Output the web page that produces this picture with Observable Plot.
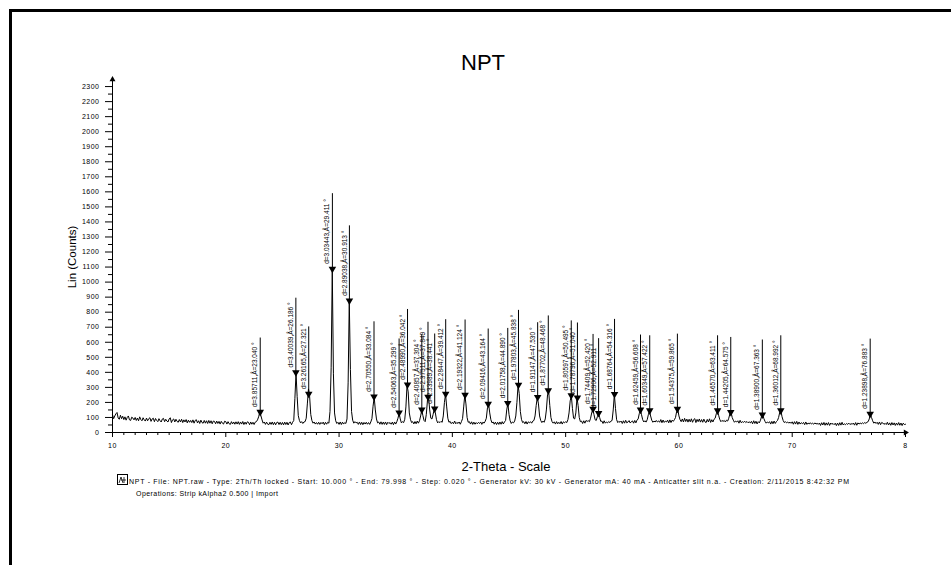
<!DOCTYPE html>
<html><head><meta charset="utf-8">
<script src="https://cdn.jsdelivr.net/npm/d3@7"></script>
<script src="https://cdn.jsdelivr.net/npm/@observablehq/plot@0.6"></script>
<style>
body{margin:0;background:#fff;}
#wrap{position:relative;width:951px;height:565px;overflow:hidden;font-family:"Liberation Sans",Arial,sans-serif;background:#fff;}
#frame{position:absolute;left:9px;top:9px;width:1000px;height:600px;border-top:3px solid #000;border-left:3px solid #000;}
#title{position:absolute;left:0;width:966px;top:50px;text-align:center;font-size:22px;line-height:26px;color:#000;}
#ylab{position:absolute;left:72px;top:257px;transform:translate(-50%,-50%) rotate(-90deg);font-size:11.5px;white-space:nowrap;color:#000;}
#xlab{position:absolute;left:506px;top:466px;transform:translate(-50%,-50%);font-size:13px;white-space:nowrap;color:#000;}
#chart{position:absolute;left:0;top:0;}
#foot{position:absolute;left:0;top:0;pointer-events:none;}
g[aria-label="y-axis tick label"] text, g[aria-label="x-axis tick label"] text{letter-spacing:0.5px;}
</style></head>
<body>
<div id="wrap">
  <div id="frame"></div>
  <div id="chart"></div>
  <div id="title">NPT</div>
  <div id="ylab">Lin (Counts)</div>
  <div id="xlab">2-Theta - Scale</div>
  <svg id="foot" width="951" height="565" font-family="Liberation Sans, Arial, sans-serif">
    <rect x="117.5" y="474.5" width="10" height="10" fill="none" stroke="#000" stroke-width="1"/>
    <path d="M119 483 L121 477 L123 483 M121 480 L126 480 M124 477 L124 483" stroke="#000" stroke-width="0.8" fill="none"/>
    <text id="f1" x="129" y="483.5" font-size="7" textLength="720" lengthAdjust="spacing"></text>
    <text id="f2" x="136" y="496" font-size="7" textLength="142" lengthAdjust="spacing"></text>
  </svg>
</div>
<script>
// ---- scan (2-Theta 10..80, counts read every 0.1 deg) ----
const scanStart = 10;
const scanStep = 0.1;
const counts = [
118,92,110,124,133,96,88,115,92,108,
86,104,82,100,110,84,80,102,96,84,
100,80,96,78,104,86,78,98,84,76,
96,78,92,98,74,90,95,72,93,80,
72,92,78,70,90,94,72,88,76,70,
90,98,66,84,90,70,88,74,68,86,
70,88,66,84,70,86,64,82,68,80,
66,84,62,80,85,64,78,60,82,66,
62,80,62,78,60,80,62,78,58,76,
74,58,76,60,74,56,74,62,56,75,
72,56,72,58,54,72,57,70,55,71,
56,72,54,70,56,73,53,69,55,71,
68,52,70,55,68,53,69,72,84,104,
135,112,84,62,70,54,69,55,52,68,
54,70,52,68,51,67,69,53,68,52,
67,51,69,53,68,50,66,70,52,68,
80,225,395,240,112,80,64,72,60,70,
72,95,190,290,240,120,80,62,70,56,
66,55,68,54,67,58,69,52,68,55,
68,62,140,430,1085,390,130,78,60,68,
54,70,53,69,56,66,60,90,330,875,
420,140,82,62,72,64,68,54,70,53,
68,52,67,56,68,55,66,54,70,92,
175,235,150,90,64,70,55,71,54,69,
54,70,52,68,60,66,55,69,52,70,
56,72,95,128,90,64,72,66,88,170,
315,270,130,88,66,72,57,73,58,76,
62,78,110,148,112,80,72,120,210,235,
150,95,90,120,155,130,85,64,72,66,
74,68,110,200,255,170,95,68,74,59,
68,58,76,58,67,60,70,55,72,92,
170,250,190,100,68,72,56,71,54,69,
55,66,58,67,60,70,54,69,62,75,
95,165,190,130,85,64,70,55,69,53,
68,54,70,55,72,57,70,80,150,195,
120,78,60,70,64,76,110,200,315,260,
140,88,66,72,58,73,56,71,64,72,
62,76,80,110,180,235,190,110,80,66,
76,68,90,150,250,275,180,100,72,62,
71,56,72,58,68,58,73,56,71,64,
72,66,85,130,210,245,160,95,90,130,
230,180,100,72,76,60,78,62,80,74,
78,72,95,130,155,120,85,80,105,128,
100,74,76,60,78,62,70,64,73,66,
76,80,150,253,160,85,66,74,68,76,
60,78,62,81,64,70,79,63,72,77,
62,80,64,82,90,125,150,118,85,70,
78,69,85,118,145,110,82,68,76,70,
80,70,77,68,86,65,83,67,76,70,
82,64,84,66,82,74,85,100,140,155,
110,85,72,90,70,94,73,89,69,88,
71,91,68,86,92,66,87,72,90,69,
86,68,89,71,66,87,70,91,67,85,
70,88,95,125,145,115,88,72,80,74,
80,70,82,76,95,125,135,100,82,68,
76,70,78,62,81,65,72,67,75,66,
73,65,71,64,74,58,78,60,75,57,
72,64,82,108,118,92,74,62,70,64,
72,56,74,58,76,60,72,80,100,135,
145,105,80,66,72,64,70,62,69,61,
71,55,72,56,74,54,70,56,65,59,
67,52,70,54,63,57,65,56,62,55,
64,56,61,54,63,47,65,50,67,48,
64,49,66,47,63,55,60,52,62,46,
63,47,65,49,68,50,58,52,60,54,
62,53,59,55,63,49,66,48,64,56,
63,57,65,59,66,61,68,72,90,122,
100,78,62,70,60,68,54,70,52,67,
63,54,61,53,68,50,64,48,66,50,
64,47,63,49,66,48,63,46,62,53,
55
];

// ---- peak markers ----
const peakTheta = [23.040,26.186,27.321,29.411,30.913,33.084,35.299,36.042,37.304,37.849,38.441,39.412,41.124,43.164,44.890,45.838,47.530,48.468,50.495,51.040,52.420,52.911,54.316,56.608,57.422,59.865,63.411,64.575,67.363,68.992,76.883];
const peakD = ["3.85711","3.40039","3.26165","3.03443","2.89038","2.70550","2.54063","2.48990","2.40857","2.37511","2.33989","2.28447","2.19322","2.09416","2.01758","1.97803","1.91147","1.87702","1.80597","1.78796","1.74409","1.72906","1.68764","1.62459","1.60349","1.54375","1.46570","1.44205","1.38900","1.36012","1.23898"];
const peakMarker = [136,399,256,1088,876,238,132,318,152,236,158,256,250,190,195,316,235,279,246,231,157,128,255,151,146,157,146,135,118,146,124];
const peakTop = [628,893,702,1588,1374,736,622,818,650,733,655,750,748,688,692,812,730,775,742,728,652,624,752,648,643,654,643,632,615,643,621];

// ---- axes ----
const yMajor = d3.range(0, 2301, 100);
const yMinor = d3.range(50, 2301, 100);
const xMajor = [10,20,30,40,50,60,70,80];
const xMinor = d3.range(11, 80, 1).filter(v => v % 10 !== 0);
const xTickText = {10:"10",20:"20",30:"30",40:"40",50:"50",60:"60",70:"70",80:"8"};

const footer1 = "NPT - File: NPT.raw - Type: 2Th/Th locked - Start: 10.000 ° - End: 79.998 ° - Step: 0.020 ° - Generator kV: 30 kV - Generator mA: 40 mA - Anticatter slit n.a. - Creation: 2/11/2015 8:42:32 PM";
const footer2 = "Operations: Strip kAlpha2 0.500 | Import";

const scan = counts.map((c, i) => ({t: +(scanStart + i * scanStep).toFixed(2), c}));
const peaks = peakTheta.map((t, i) => ({theta: t, d: peakD[i], marker: peakMarker[i], top: peakTop[i]}));

const plot = Plot.plot({
  width: 951, height: 565,
  marginLeft: 112, marginRight: 46, marginTop: 79, marginBottom: 133,
  x: {domain: [10, 80]},
  y: {domain: [0, 2347]},
  style: {fontFamily: "Liberation Sans, Arial, sans-serif", background: "transparent", color: "#000", overflow: "visible"},
  marks: [
    Plot.axisY(yMajor, {tickSize: 7, tickPadding: 6, fontSize: 7, label: null, tickFormat: d => String(d)}),
    Plot.axisY(yMinor, {tickSize: 4, fill: "none", label: null}),
    Plot.axisX(xMajor, {tickSize: 5, tickPadding: 6, fontSize: 7, label: null, tickFormat: d => xTickText[d]}),
    Plot.axisX(xMinor, {tickSize: 3, fill: "none", label: null}),
    Plot.ruleX([10], {stroke: "#000"}),
    Plot.ruleY([0], {stroke: "#000"}),
    Plot.dot([{x: 10, y: 2347}], {x: "x", y: "y", symbol: "triangle", r: 2.2, fill: "#000", stroke: null}),
    Plot.dot([{x: 80, y: 0}], {x: "x", y: "y", symbol: "triangle", rotate: 90, r: 2.2, fill: "#000", stroke: null}),
    Plot.line(scan, {x: "t", y: "c", stroke: "#000", strokeWidth: 1}),
    Plot.ruleX(peaks, {x: "theta", y1: "marker", y2: "top", stroke: "#000", strokeWidth: 1}),
    Plot.dot(peaks, {x: "theta", y: "marker", symbol: "triangle", rotate: 180, r: 2.8, fill: "#000", stroke: null}),
    Plot.text(peaks, {x: "theta", y: "marker", text: d => `d=${d.d},Å=${d.theta.toFixed(3)} °`, rotate: -90, textAnchor: "start", dx: -5, dy: -5, fontSize: 6.5, fill: "#000"})
  ]
});
document.getElementById("chart").appendChild(plot);
document.getElementById("f1").textContent = footer1;
document.getElementById("f2").textContent = footer2;
</script>
</body></html>
